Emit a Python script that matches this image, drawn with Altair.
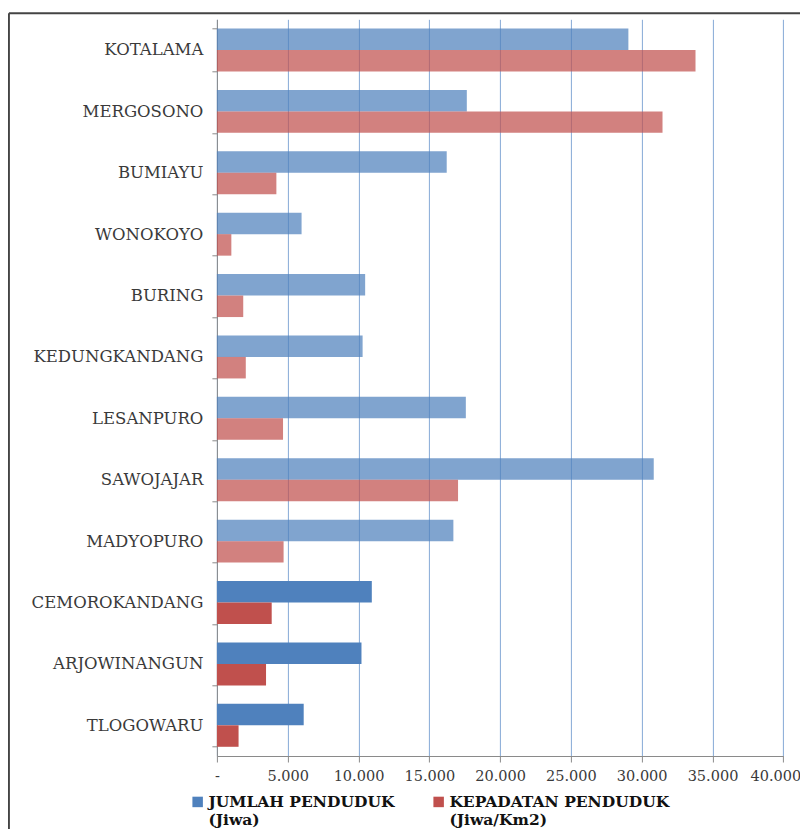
import altair as alt
import pandas as pd

# ---- data ----
kelurahan = ["KOTALAMA", "MERGOSONO", "BUMIAYU", "WONOKOYO", "BURING",
             "KEDUNGKANDANG", "LESANPURO", "SAWOJAJAR", "MADYOPURO",
             "CEMOROKANDANG", "ARJOWINANGUN", "TLOGOWARU"]
jumlah_penduduk = [29060, 17650, 16230, 5980, 10470, 10290,
                   17580, 30850, 16700, 10940, 10210, 6130]
kepadatan_penduduk = [33800, 31470, 4200, 1020, 1860, 2040,
                      4670, 17030, 4710, 3870, 3470, 1530]
series = ["JUMLAH PENDUDUK|(Jiwa)", "KEPADATAN PENDUDUK|(Jiwa/Km2)"]
x_ticks = [0, 5000, 10000, 15000, 20000, 25000, 30000, 35000, 40000]
faded_rows = kelurahan[:9]   # rows under the watermark look washed out

rows = []
for k, j, d in zip(kelurahan, jumlah_penduduk, kepadatan_penduduk):
    rows.append({"Kelurahan": k, "Seri": series[0], "Nilai": j})
    rows.append({"Kelurahan": k, "Seri": series[1], "Nilai": d})
df = pd.DataFrame(rows)

FONT = "DejaVu Serif"
TXT = "#3a3a3a"

bars = alt.Chart(df).mark_bar().encode(
    y=alt.Y("Kelurahan:N", sort=kelurahan, title=None,
            scale=alt.Scale(paddingInner=0.3, paddingOuter=0.15),
            axis=alt.Axis(tickBand="extent", tickSize=5, tickColor="#8a8a8a",
                          domainColor="#8a8a8a", labelFont=FONT, labelFontSize=16.5,
                          labelColor=TXT, labelPadding=9, labelLimit=300,
                          grid=False)),
    yOffset=alt.YOffset("Seri:N", sort=series,
                        scale=alt.Scale(paddingInner=0, paddingOuter=0)),
    x=alt.X("Nilai:Q", title=None,
            scale=alt.Scale(domain=[0, 40000], nice=False, zero=True),
            axis=alt.Axis(values=x_ticks, grid=True, gridColor="#86A9D6",
                          gridWidth=1, tickSize=6, tickColor="#8a8a8a",
                          domainColor="#8a8a8a", labelFont=FONT, labelFontSize=14.5,
                          labelColor=TXT, labelPadding=7, labelOverlap=False,
                          labelFlush=False,
                          labelOffset={"condition": {"test": "datum.value == 40000", "value": -8},
                                       "value": 0},
                          labelExpr="datum.value == 0 ? '-' : replace(format(datum.value, ','), ',', '.')")),
    color=alt.Color("Seri:N", sort=series,
                    scale=alt.Scale(domain=series, range=["#4F81BD", "#C0504D"]),
                    legend=alt.Legend(title=None, orient="none", direction="horizontal",
                                      columns=2, legendX=-27, legendY=780,
                                      padding=0, columnPadding=36,
                                      symbolType="M-1,-2H1V0H-1Z", symbolSize=110,
                                      symbolStrokeWidth=0, labelOffset=3,
                                      labelFont=FONT, labelFontSize=15.5,
                                      labelFontWeight="bold", labelColor="#111111",
                                      labelBaseline="alphabetic", labelLimit=400,
                                      labelExpr="split(datum.label, '|')")),
    opacity=alt.condition(alt.FieldOneOfPredicate(field="Kelurahan", oneOf=faded_rows),
                          alt.value(0.72), alt.value(1.0)),
)

frame_data = alt.Data(values=[{"f": 1}])
frame_left = alt.Chart(frame_data).mark_rule(color="#444444", strokeWidth=2).encode(
    x=alt.value(-208), y=alt.value(-6), y2=alt.value(830))
frame_top = alt.Chart(frame_data).mark_rule(color="#444444", strokeWidth=2).encode(
    x=alt.value(-208), x2=alt.value(600), y=alt.value(-6))

chart = alt.layer(bars, frame_left, frame_top).properties(
    width=566.4, height=736.7,
    autosize=alt.AutoSizeParams(type="none"),
    padding={"left": 208.9, "top": 11.3, "right": 16.7, "bottom": 73},
    background="white",
).configure_view(strokeWidth=0)

chart.save("out.html", embed_options={"renderer": "svg", "actions": False})
